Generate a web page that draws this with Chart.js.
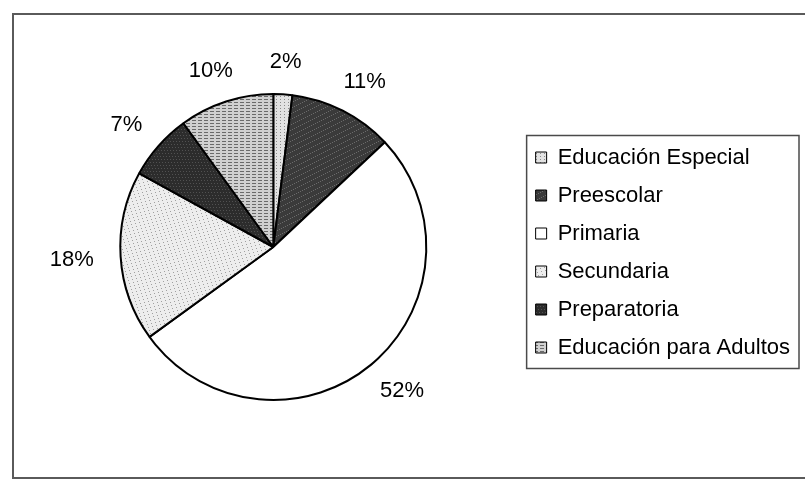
<!DOCTYPE html>
<html><head><meta charset="utf-8">
<script src="https://cdn.jsdelivr.net/npm/chart.js@4/dist/chart.umd.min.js"></script>
<style>html,body{margin:0;padding:0;background:#fff}#wrap{position:relative;width:805px;height:479px}</style>
</head><body><div id="wrap"><canvas id="c" width="805" height="479"></canvas></div>
<script>
// ---- data ----
const categories = ['Educación Especial', 'Preescolar', 'Primaria', 'Secundaria', 'Preparatoria', 'Educación para Adultos'];
const percentages = [2, 11, 52, 18, 7, 10];
const labelSuffix = '%';

// ---- styles (textures) ----
function makePattern(base, ink, size, fn) {
  const c = document.createElement('canvas');
  c.width = c.height = size;
  const x = c.getContext('2d');
  x.fillStyle = base; x.fillRect(0, 0, size, size);
  if (ink) {
    x.fillStyle = ink;
    for (let i = 0; i < size; i++) for (let j = 0; j < size; j++) if (fn(i, j)) x.fillRect(i, j, 1, 1);
  }
  return x.createPattern(c, 'repeat');
}
const fills = [
  makePattern('#e2e2e2', '#8a8a8a', 12, (i, j) => i % 4 === 0 && j % 3 === 0),
  makePattern('#3a3a3a', '#6a6a6a', 11, (i, j) => (i * 7 + j * 3) % 11 === 0),
  '#ffffff',
  makePattern('#ededed', '#a0a0a0', 13, (i, j) => (i * 5 + j * 7) % 13 === 0),
  makePattern('#2c2c2c', '#515151', 9, (i, j) => (i * 3 + j * 5) % 9 === 0),
  makePattern('#d0d0d0', '#6a6a6a', 12, (i, j) => j % 3 === 0 && i % 6 < 4)
];

const FONT = "'Liberation Sans', Arial, sans-serif";

const framePlugin = {
  id: 'frame',
  beforeDraw(chart) {
    const ctx = chart.ctx;
    ctx.save();
    ctx.fillStyle = '#fff';
    ctx.fillRect(0, 0, chart.width, chart.height);
    ctx.strokeStyle = '#5a5a5a';
    ctx.lineWidth = 2;
    ctx.strokeRect(13, 14, chart.width, chart.height - 15);
    ctx.restore();
  },
  afterDraw(chart) {
    const lg = chart.legend;
    if (!lg || !lg.legendHitBoxes || !lg.legendHitBoxes.length) return;
    const hb = lg.legendHitBoxes;
    const first = hb[0], last = hb[hb.length - 1];
    const left = first.left - 9;
    const right = Math.max(...hb.map(b => b.left + b.width)) + 9;
    const top = first.top - 11;
    const bottom = last.top + last.height + 10;
    const ctx = chart.ctx;
    ctx.save();
    ctx.strokeStyle = '#4a4a4a';
    ctx.lineWidth = 1.5;
    ctx.strokeRect(left, top, right - left, bottom - top);
    ctx.restore();
  }
};

const labelPlugin = {
  id: 'outLabels',
  afterDatasetsDraw(chart) {
    const meta = chart.getDatasetMeta(0);
    const ctx = chart.ctx;
    ctx.save();
    ctx.font = '22px ' + FONT;
    ctx.fillStyle = '#000';
    ctx.textAlign = 'center';
    ctx.textBaseline = 'middle';
    meta.data.forEach((arc, i) => {
      const p = arc.getProps(['x', 'y', 'startAngle', 'endAngle', 'outerRadius'], true);
      const mid = (p.startAngle + p.endAngle) / 2;
      const ux = Math.cos(mid), uy = Math.sin(mid);
      const txt = chart.data.datasets[0].data[i] + labelSuffix;
      const w = ctx.measureText(txt).width, h = 12;
      const r = p.outerRadius + 27;
      const cx = p.x + r * ux + ux * w / 2;
      const cy = p.y + r * uy + uy * h / 2 + 1;
      ctx.fillText(txt, cx, cy);
    });
    ctx.restore();
  }
};

const baseGen = Chart.overrides.doughnut.plugins.legend.labels.generateLabels;

new Chart(document.getElementById('c'), {
  type: 'pie',
  data: {
    labels: categories,
    datasets: [{
      data: percentages,
      backgroundColor: fills,
      borderColor: '#000',
      borderWidth: 2
    }]
  },
  options: {
    responsive: false,
    animation: false,
    layout: { padding: { top: 93, bottom: 78, left: 27, right: 5 } },
    plugins: {
      tooltip: { enabled: false },
      legend: {
        position: 'right',
        align: 'center',
        title: { display: true, text: '', font: { size: 1, lineHeight: 1 }, padding: { top: 10, bottom: 0 } },
        labels: {
          boxWidth: 11,
          boxHeight: 11,
          padding: 16,
          color: '#000',
          font: { size: 22, family: FONT },
          generateLabels(chart) {
            return baseGen(chart).map(it => Object.assign(it, { lineWidth: 1, strokeStyle: '#000' }));
          }
        }
      }
    }
  },
  plugins: [framePlugin, labelPlugin]
});
</script></body></html>
